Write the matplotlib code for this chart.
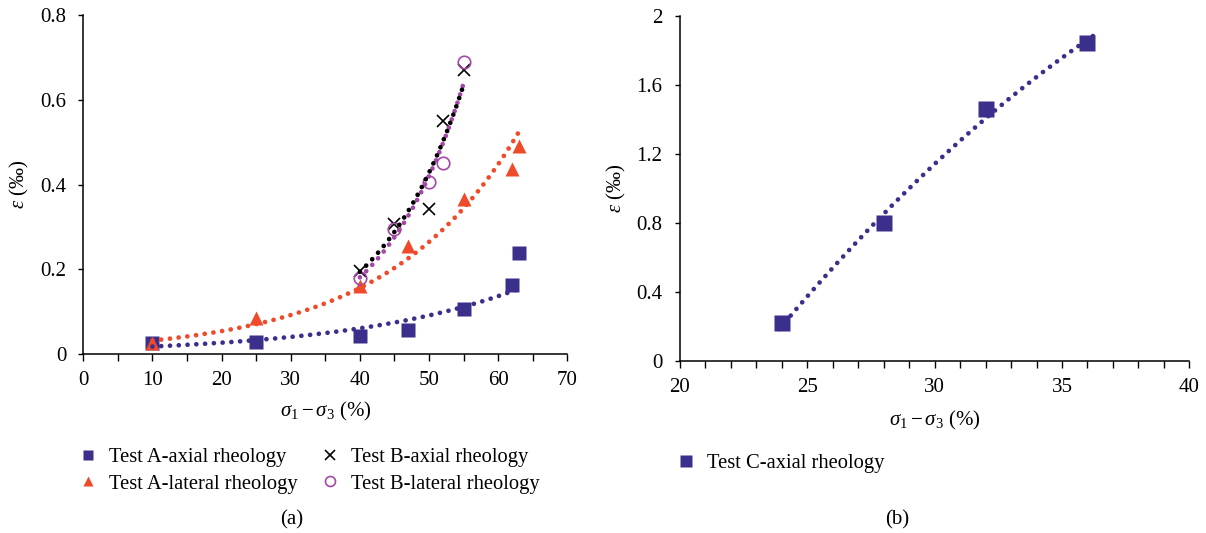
import numpy as np
import matplotlib
matplotlib.use("Agg")
import matplotlib.pyplot as plt
from matplotlib.ticker import MultipleLocator

plt.rcParams['font.family'] = ['Liberation Serif', 'DejaVu Serif']
plt.rcParams['mathtext.fontset'] = 'custom'
plt.rcParams['mathtext.rm'] = 'Liberation Serif'
plt.rcParams['mathtext.it'] = 'Liberation Serif:italic'

# ---- data: panel (a) ----
a_axial_x = [10, 25, 40, 47, 55, 62, 63]
a_axial_y = [0.027, 0.028, 0.043, 0.058, 0.106, 0.164, 0.239]
a_lateral_x = [10, 25, 40, 47, 55, 62, 63]
a_lateral_y = [0.027, 0.085, 0.160, 0.255, 0.365, 0.437, 0.490]
b_axial_x = [40, 45, 50, 52, 55]
b_axial_y = [0.197, 0.308, 0.343, 0.549, 0.670]
b_lateral_x = [40, 45, 50, 52, 55]
b_lateral_y = [0.179, 0.295, 0.406, 0.452, 0.690]

# ---- data: panel (b) ----
c_axial_x = [24, 28, 32, 36]
c_axial_y = [0.222, 0.802, 1.459, 1.845]

labels_a = ["Test A-axial rheology", "Test A-lateral rheology",
            "Test B-axial rheology", "Test B-lateral rheology"]
label_c = "Test C-axial rheology"

BLUE = "#3b2f8c"
RED = "#ef4a2a"
PURPLE = "#a448a8"
BLACK = "#000000"
FS = 15.0
FS_LEG = 14.8

fig = plt.figure(figsize=(12.06, 5.33), dpi=100)
W, H = 1206, 533


def axes_px(x0, x1, y_top, y_bot):
    return fig.add_axes([x0 / W, 1 - y_bot / H, (x1 - x0) / W, (y_bot - y_top) / H])


def style_axes(ax, xpad, ypad):
    for s in ("top", "right"):
        ax.spines[s].set_visible(False)
    for s in ("left", "bottom"):
        ax.spines[s].set_linewidth(1.1)
    ax.tick_params(axis="both", which="both", direction="out", width=1.0,
                   labelsize=FS, colors="black")
    ax.tick_params(axis="x", which="both", length=4.8, pad=xpad)
    ax.tick_params(axis="y", which="both", length=3.8, pad=ypad)


def dotted(ax, x, y, color, z=4):
    ax.plot(x, y, color=color, lw=3.4, linestyle=(0, (0.01, 1.85)),
            dash_capstyle="round", zorder=z)


def exp_trend(x, y, n=200):
    x = np.asarray(x, float)
    b, ln_a = np.polyfit(x, np.log(y), 1)
    xs = np.linspace(x.min(), x.max(), n)
    return xs, np.exp(ln_a + b * xs)


# ---- panel (a) ----
ax1 = axes_px(83.3, 567.3, 15.0, 354.3)
style_axes(ax1, xpad=7.5, ypad=8.5)
ax1.set_xlim(0, 70)
ax1.set_ylim(0, 0.8)
ax1.xaxis.set_major_locator(MultipleLocator(10))
ax1.xaxis.set_minor_locator(MultipleLocator(5))
ax1.yaxis.set_major_locator(MultipleLocator(0.2))
ax1.yaxis.set_major_formatter(plt.FuncFormatter(lambda v, p: "0" if v == 0 else f"{v:.1f}"))

h1, = ax1.plot(a_axial_x, a_axial_y, "s", ms=9.8, color=BLUE, mec="none", zorder=2)
h2, = ax1.plot(a_lateral_x, a_lateral_y, "^", ms=9.8, color=RED, mec="none", zorder=3)
h3, = ax1.plot(b_axial_x, b_axial_y, "x", ms=9, mew=1.2, color=BLACK, zorder=3)
h4, = ax1.plot(b_lateral_x, b_lateral_y, "o", ms=9, mew=1.2, mfc="none", mec=PURPLE, zorder=3)

dotted(ax1, *exp_trend(a_axial_x, a_axial_y), BLUE)
dotted(ax1, *exp_trend(a_lateral_x, a_lateral_y), RED)
dotted(ax1, *exp_trend(b_lateral_x, b_lateral_y), PURPLE, z=4)
dotted(ax1, *exp_trend(b_axial_x, b_axial_y), BLACK, z=5)

ax1.set_xlabel(r"$\sigma_1 - \sigma_3$ (%)", fontsize=FS)
ax1.xaxis.set_label_coords(0.5, -0.135)
ax1.set_ylabel(r"$\varepsilon$ (‰)", fontsize=FS)
ax1.yaxis.set_label_coords(-0.108, 0.5)

fig.legend([h1, h2, h3, h4], labels_a, loc="upper left",
           bbox_to_anchor=(78 / W, 1 - 448 / H), ncol=2, frameon=False,
           fontsize=FS_LEG, handlelength=1.0, handletextpad=0.5,
           columnspacing=1.1, labelspacing=0.33, borderpad=0,
           borderaxespad=0, markerscale=0.8)
fig.text(292 / W, 1 - 520 / H, "(a)", fontsize=FS, ha="center", va="center")

# ---- panel (b) ----
ax2 = axes_px(680.0, 1189.3, 16.0, 361.3)
style_axes(ax2, xpad=7.0, ypad=9.0)
ax2.set_xlim(20, 40)
ax2.set_ylim(0, 2)
ax2.xaxis.set_major_locator(MultipleLocator(5))
ax2.xaxis.set_minor_locator(MultipleLocator(1))
ax2.yaxis.set_major_locator(MultipleLocator(0.4))
ax2.yaxis.set_major_formatter(plt.FuncFormatter(
    lambda v, p: "0" if v == 0 else ("2" if abs(v - 2) < 1e-9 else f"{v:.1f}")))

h5, = ax2.plot(c_axial_x, c_axial_y, "s", ms=11, color=BLUE, mec="none", zorder=2)
coef = np.polyfit(c_axial_x, c_axial_y, 2)
xs = np.linspace(min(c_axial_x) - 0.1, max(c_axial_x) + 0.25, 200)
dotted(ax2, xs, np.polyval(coef, xs), BLUE)

ax2.set_xlabel(r"$\sigma_1 - \sigma_3$ (%)", fontsize=FS)
ax2.xaxis.set_label_coords(0.5, -0.137)
ax2.set_ylabel(r"$\varepsilon$ (‰)", fontsize=FS)
ax2.yaxis.set_label_coords(-0.102, 0.5)

fig.legend([h5], [label_c], loc="upper left",
           bbox_to_anchor=(676 / W, 1 - 454 / H), frameon=False,
           fontsize=FS_LEG, handlelength=1.0, handletextpad=0.5, borderpad=0,
           borderaxespad=0, markerscale=0.8)
fig.text(897 / W, 1 - 520 / H, "(b)", fontsize=FS, ha="center", va="center")

fig.savefig("out.png", dpi=100, facecolor="white")
